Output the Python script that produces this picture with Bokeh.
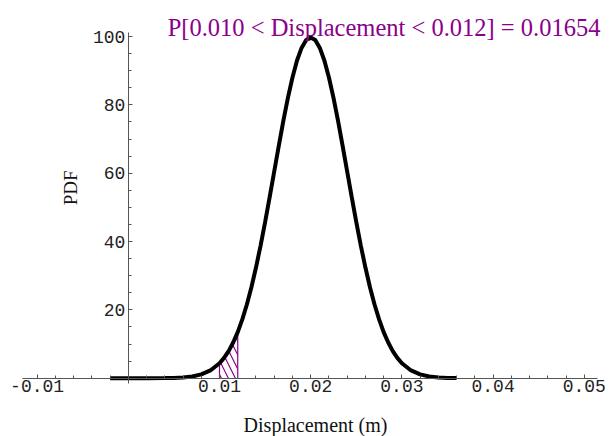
import numpy as np
from bokeh.plotting import figure
from bokeh.models import LinearAxis, FixedTicker, Label
from bokeh.embed import file_html
from bokeh.resources import INLINE

# ---- data ----
disp = [-0.002, 0.0, 0.002, 0.004, 0.005, 0.006, 0.007, 0.008, 0.009,
        0.010, 0.0105, 0.011, 0.0115, 0.012, 0.0125, 0.013, 0.0135, 0.014, 0.0145,
        0.015, 0.0155, 0.016, 0.0165, 0.017, 0.0175, 0.018, 0.0185, 0.019, 0.0195,
        0.020, 0.0205, 0.021, 0.0215, 0.022, 0.0225, 0.023, 0.0235, 0.024, 0.0245,
        0.025, 0.0255, 0.026, 0.0265, 0.027, 0.0275, 0.028, 0.0285, 0.029, 0.0295,
        0.030, 0.031, 0.032, 0.033, 0.034, 0.035, 0.036]
pdf = [0.0, 0.0, 0.004, 0.033, 0.088, 0.218, 0.507, 1.108, 2.27,
       4.38, 5.94, 7.94, 10.43, 13.50, 17.20, 21.57, 26.63, 32.38, 38.75,
       45.66, 52.97, 60.49, 68.01, 75.29, 82.04, 88.02, 92.97, 96.67, 98.96,
       99.74, 98.96, 96.67, 92.97, 88.02, 82.04, 75.29, 68.01, 60.49, 52.97,
       45.66, 38.75, 32.38, 26.63, 21.57, 17.20, 13.50, 10.43, 7.94, 5.94,
       4.38, 2.27, 1.108, 0.507, 0.218, 0.088, 0.033]
shade_lo = 0.010
shade_hi = 0.012

x_ticks = [-0.01, 0.01, 0.02, 0.03, 0.04, 0.05]
x_tick_labels = ["-0.01", "0.01", "0.02", "0.03", "0.04", "0.05"]
x_minor = [-0.008, -0.006, -0.004, -0.002, 0.002, 0.004, 0.006, 0.008,
           0.012, 0.014, 0.016, 0.018, 0.022, 0.024, 0.026, 0.028,
           0.032, 0.034, 0.036, 0.038, 0.042, 0.044, 0.046, 0.048]
y_ticks = [20, 40, 60, 80, 100]
y_tick_labels = ["20", "40", "60", "80", "100"]
y_minor = [5, 10, 15, 25, 30, 35, 45, 50, 55, 65, 70, 75, 85, 90, 95]

title_text = "P[0.010 < Displacement < 0.012] = 0.01654"
x_label = "Displacement (m)"
y_label = "PDF"

PURPLE = "#8b008b"
AX = "#555555"

p = figure(width=613, height=436, output_backend="svg", toolbar_location=None,
           title=None, x_axis_location=None, y_axis_location=None,
           x_range=(-0.014013, 0.053202), y_range=(-17.06, 110.54),
           min_border=0, min_border_left=0, min_border_right=0,
           min_border_top=0, min_border_bottom=0)
p.outline_line_color = None
p.grid.visible = False
p.background_fill_color = "white"
p.border_fill_color = "white"

xaxis = LinearAxis(fixed_location=0, bounds=(-0.0116, 0.05145),
                   ticker=FixedTicker(ticks=x_ticks, minor_ticks=x_minor),
                   major_label_overrides=dict(zip(x_ticks, x_tick_labels)))
yaxis = LinearAxis(fixed_location=0, bounds=(-1.55, 101.2),
                   ticker=FixedTicker(ticks=y_ticks, minor_ticks=y_minor),
                   major_label_overrides=dict(zip(y_ticks, y_tick_labels)))
for ax, standoff in ((xaxis, 2), (yaxis, 3)):
    ax.axis_line_color = AX
    ax.axis_line_width = 1
    ax.major_tick_line_color = AX
    ax.minor_tick_line_color = AX
    ax.major_tick_in = 4
    ax.major_tick_out = 0
    ax.minor_tick_in = 3
    ax.minor_tick_out = 0
    ax.major_label_text_font = "Liberation Mono"
    ax.major_label_text_font_size = "18px"
    ax.major_label_text_color = "#222222"
    ax.major_label_standoff = standoff
p.add_layout(xaxis, "below")
p.add_layout(yaxis, "left")

# shaded region from the curve data
xa = np.array(disp)
ya = np.array(pdf)
m = (xa >= shade_lo - 1e-12) & (xa <= shade_hi + 1e-12)
hx = list(xa[m]) + [xa[m][-1], xa[m][0]]
hy = list(ya[m]) + [0.0, 0.0]
p.patch(hx, hy, fill_color=None, line_color=None,
        hatch_pattern="\\", hatch_color=PURPLE, hatch_scale=14, hatch_weight=1.2)
p.segment(x0=[xa[m][0], xa[m][-1]], y0=[0, 0], x1=[xa[m][0], xa[m][-1]],
          y1=[ya[m][0], ya[m][-1]], line_color=PURPLE, line_width=1.2)

p.line(disp, pdf, line_color="black", line_width=4)

p.add_layout(Label(x=0.02804, y=102.7, text=title_text, text_align="center",
                   text_baseline="alphabetic", text_font="Liberation Serif",
                   text_font_size="24.5px", text_color=PURPLE))
p.add_layout(Label(x=0.02053, y=-13.84, text=x_label, text_align="center",
                   text_baseline="alphabetic", text_font="Liberation Serif",
                   text_font_size="20px", text_color="#111111"))
p.add_layout(Label(x=-0.00634, y=55.7, text=y_label, text_align="center",
                   text_baseline="middle", text_font="Liberation Serif",
                   text_font_size="19px", text_color="#111111", angle=np.pi / 2))

open("out.html", "w").write(file_html(p, INLINE))
